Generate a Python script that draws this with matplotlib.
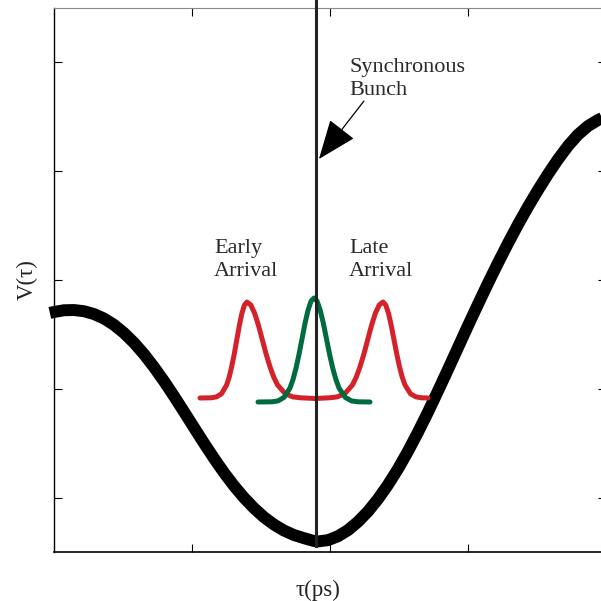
import numpy as np
import matplotlib
matplotlib.use("Agg")
import matplotlib.pyplot as plt

plt.rcParams['font.family'] = ['Liberation Serif', 'DejaVu Serif']

# --- donnees (unites arbitraires) ---
# courbe V(tau) (trait noir epais)
tau = [-0.030, 0.0000, 0.0725, 0.1449, 0.2174, 0.2899, 0.3623, 0.4348, 0.5072,
       0.5797, 0.6522, 0.7246, 0.7971, 0.8696, 0.9420, 1.0145, 1.0870, 1.1594,
       1.2319, 1.3043, 1.3768, 1.4493, 1.5217, 1.5942, 1.6667, 1.7391, 1.8116,
       1.8841, 1.9130, 1.9855, 2.0580, 2.1304, 2.2029, 2.2754, 2.3478, 2.4203,
       2.4928, 2.5652, 2.6377, 2.7101, 2.7826, 2.8551, 2.9275, 3.0000, 3.0725,
       3.1449, 3.2174, 3.2899, 3.3623, 3.4348, 3.5072, 3.5797, 3.6522, 3.7246,
       3.7971, 3.8696, 3.9420, 4.0000]
v_tau = [2.197, 2.206, 2.222, 2.224, 2.213, 2.187, 2.146, 2.088, 2.013,
         1.923, 1.818, 1.699, 1.570, 1.432, 1.289, 1.144, 1.000, 0.861,
         0.729, 0.608, 0.499, 0.403, 0.320, 0.252, 0.197, 0.156, 0.127,
         0.101, 0.097, 0.109, 0.145, 0.201, 0.278, 0.373, 0.487, 0.618,
         0.764, 0.926, 1.101, 1.286, 1.480, 1.678, 1.879, 2.080, 2.277,
         2.470, 2.657, 2.837, 3.010, 3.173, 3.327, 3.473, 3.609, 3.732,
         3.836, 3.915, 3.971, 4.004]

# paquets en avance / en retard (rouge)
t_late = [1.0580, 1.1399, 1.1768, 1.2138, 1.2507, 1.2692, 1.2873, 1.3062, 1.3246,
          1.3431, 1.3616, 1.3801, 1.3986, 1.4261, 1.4540, 1.4819, 1.5094, 1.5370,
          1.5652, 1.5928, 1.6203, 1.6761, 1.7312, 1.7870, 1.8913, 1.9957, 2.0514,
          2.1065, 2.1623, 2.1899, 2.2174, 2.2457, 2.2732, 2.3007, 2.3286, 2.3565,
          2.3841, 2.4040, 2.4239, 2.4438, 2.4638, 2.4837, 2.5036, 2.5236, 2.5435,
          2.5833, 2.6232, 2.6630, 2.7101]
i_late = [1.4154, 1.4173, 1.4256, 1.4540, 1.5349, 1.6057, 1.7022, 1.8199, 1.9513,
          2.0818, 2.1939, 2.2702, 2.2978, 2.2702, 2.1939, 2.0818, 1.9513, 1.8199,
          1.7022, 1.6057, 1.5349, 1.4540, 1.4256, 1.4173, 1.4108, 1.4173, 1.4256,
          1.4540, 1.5349, 1.6057, 1.7022, 1.8199, 1.9513, 2.0818, 2.1939, 2.2702,
          2.2978, 2.2702, 2.1939, 2.0818, 1.9513, 1.8199, 1.7022, 1.6057, 1.5349,
          1.4540, 1.4256, 1.4173, 1.4154]

# paquet synchrone (vert)
t_sync = [1.4783, 1.5797, 1.6232, 1.6667, 1.7101, 1.7319, 1.7536, 1.7754, 1.7971,
          1.8188, 1.8406, 1.8623, 1.8841, 1.9065, 1.9293, 1.9522, 1.9746, 1.9971,
          2.0199, 2.0428, 2.0652, 2.1105, 2.1558, 2.2011, 2.2899]
i_sync = [1.3787, 1.3805, 1.3888, 1.4210, 1.5074, 1.5855, 1.6893, 1.8162, 1.9586,
          2.1002, 2.2215, 2.3051, 2.3346, 2.3051, 2.2215, 2.1002, 1.9586, 1.8162,
          1.6893, 1.5855, 1.5074, 1.4210, 1.3888, 1.3805, 1.3787]

t_marker = 1.899
x_ticks = [1, 2, 3]
y_ticks = [0.5, 1.5, 2.5, 3.5, 4.5]

fig = plt.figure(figsize=(6.01, 6.01), dpi=100)
ax = fig.add_axes([54 / 601, 49 / 601, 552 / 601, 544 / 601])

ax.plot(tau, v_tau, color='black', lw=8.6, solid_capstyle='butt',
        solid_joinstyle='round', clip_on=False, zorder=2)
ax.plot(t_late, i_late, color='#d3222a', lw=3.6, solid_joinstyle='round',
        solid_capstyle='round', zorder=3)
ax.plot(t_sync, i_sync, color='#006b3f', lw=3.6, solid_joinstyle='round',
        solid_capstyle='round', zorder=4)
ax.plot([t_marker, t_marker], [0.055, 5.08], color='#222222', lw=2.2, clip_on=False, zorder=5)

# textes
txt = dict(fontsize=16, color='#2a2a2a', ha='left', va='top', linespacing=1.3)
ax.text(2.138, 4.54, "Synchronous\nBunch", **txt)
ax.text(1.159, 2.875, "Early\nArrival", **txt)
ax.text(2.138, 2.875, "Late\nArrival", **txt)
ax.annotate("", xy=(1.920, 3.612), xytext=(2.246, 4.145),
            arrowprops=dict(arrowstyle='-|>,head_length=1.4,head_width=0.55',
                            mutation_scale=18, lw=0.9, color='black',
                            shrinkA=0, shrinkB=0))

fig.text(27 / 601, 321 / 601, "V(τ)", rotation=90, ha='center', va='center',
         fontsize=16.5, color='#222222')
fig.text(318 / 601, 11 / 601, "τ(ps)", ha='center', va='center',
         fontsize=16.5, color='#222222')

ax.set_xlim(0, 4)
ax.set_ylim(0, 5)
ax.set_xticks(x_ticks)
ax.set_yticks(y_ticks)
ax.tick_params(direction='in', length=5.5, width=0.8, top=True, right=True,
               labelbottom=False, labelleft=False)
ax.spines['top'].set_color('#888888')
ax.spines['left'].set_linewidth(1.0)
ax.spines['bottom'].set_linewidth(1.2)

plt.savefig("out.png", dpi=100)
